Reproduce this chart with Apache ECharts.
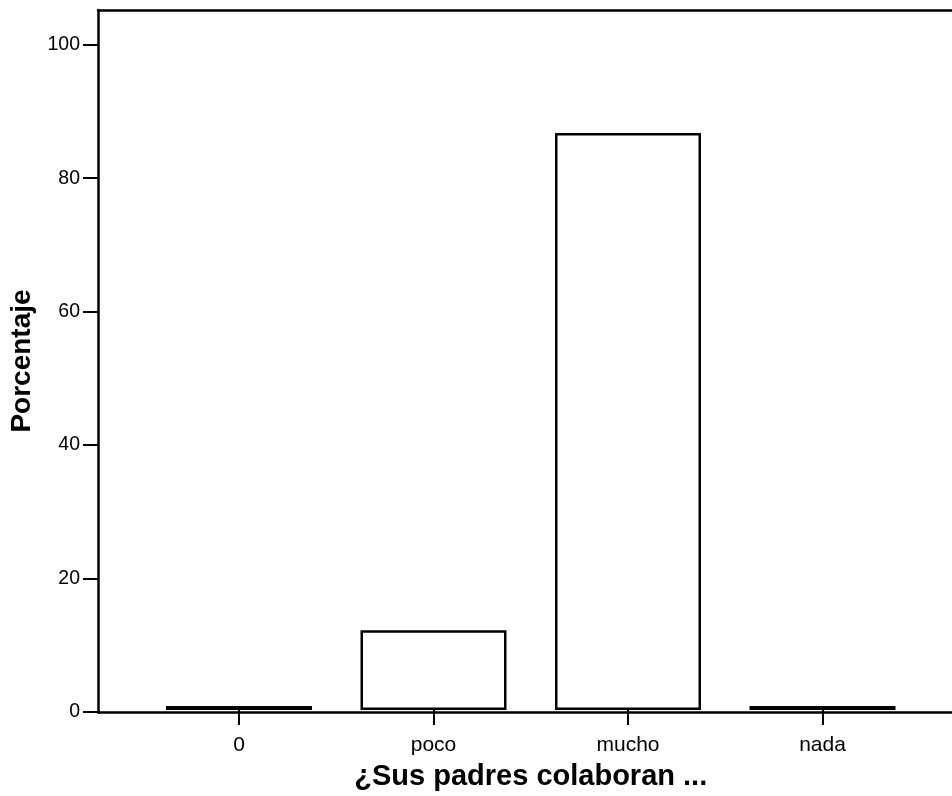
<!DOCTYPE html>
<html>
<head>
<meta charset="utf-8">
<script src="https://cdn.jsdelivr.net/npm/echarts@6/dist/echarts.min.js"></script>
<style>html,body{margin:0;padding:0;background:#fff;}#c{width:952px;height:796px;}</style>
</head>
<body>
<div id="c"></div>
<script>
const categories = ['0', 'poco', 'mucho', 'nada'];
const values = [0.6, 12.0, 86.7, 0.6];
const yTicks = [0, 20, 40, 60, 80, 100];
const xTitle = '¿Sus padres colaboran ...';
const yTitle = 'Porcentaje';

const FONT = 'Liberation Sans, Arial, sans-serif';
const yMax = 105.2;
const chart = echarts.init(document.getElementById('c'));
chart.setOption({
  animation: false,
  backgroundColor: '#fff',
  grid: [
    { left: 98, top: 10, width: 900, bottom: 84, containLabel: false },
    { left: 141.75, top: 10, width: 778, bottom: 84, containLabel: false }
  ],
  xAxis: [
    { type: 'value', gridIndex: 0, min: 0, max: 1, position: 'bottom',
      axisLine: { show: true, lineStyle: { color: '#000', width: 2.5 } },
      axisTick: { show: false }, axisLabel: { show: false }, splitLine: { show: false } },
    { type: 'value', gridIndex: 0, min: 0, max: 1, position: 'top',
      axisLine: { show: true, lineStyle: { color: '#000', width: 2.5 } },
      axisTick: { show: false }, axisLabel: { show: false }, splitLine: { show: false } },
    { type: 'category', gridIndex: 1, data: categories, position: 'bottom',
      axisLine: { show: false },
      axisTick: { show: true, alignWithLabel: true, length: 15, lineStyle: { color: '#000', width: 2 } },
      axisLabel: { color: '#000', fontSize: 21, fontFamily: FONT, margin: 25 },
      name: xTitle, nameLocation: 'middle', nameGap: 52,
      nameTextStyle: { color: '#000', fontSize: 29, fontWeight: 'bold', fontFamily: FONT } }
  ],
  yAxis: [
    { type: 'value', gridIndex: 0, min: 0, max: yMax, interval: 20,
      axisLine: { show: true, lineStyle: { color: '#000', width: 2.5 } },
      axisTick: { show: true, length: 15, lineStyle: { color: '#000', width: 2 },
        customValues: yTicks },
      axisLabel: { color: '#000', fontSize: 19.5, fontFamily: FONT, margin: 18,
        customValues: yTicks },
      splitLine: { show: false },
      name: yTitle, nameLocation: 'middle', nameGap: 62,
      nameTextStyle: { color: '#000', fontSize: 28, fontWeight: 'bold', fontFamily: FONT } },
    { type: 'value', gridIndex: 1, min: 0, max: yMax, show: false, splitLine: { show: false } }
  ],
  series: [{
    type: 'bar', xAxisIndex: 2, yAxisIndex: 1, data: values, barWidth: 146,
    itemStyle: { color: '#fff', borderColor: '#000', borderWidth: 2.5 },
    silent: true
  }]
});
</script>
</body>
</html>
